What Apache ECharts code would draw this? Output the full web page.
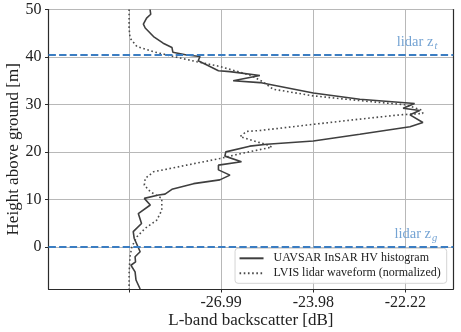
<!DOCTYPE html>
<html>
<head>
<meta charset="utf-8">
<script src="https://cdn.jsdelivr.net/npm/echarts@6/dist/echarts.min.js"></script>
<style>
  html, body { margin: 0; padding: 0; background: #fff; }
  #chart { width: 461px; height: 332px; }
</style>
</head>
<body>
<div id="chart"></div>
<script>
// UAVSAR InSAR HV histogram: height above ground [m] and linear backscatter power
const uavsarHeight = [50.0, 49.0, 48.2, 46.9, 46.1, 44.3, 42.9, 42.0, 41.0, 40.4, 40.1, 39.2, 38.3, 37.1, 36.9, 36.1, 35.0, 34.6, 32.4, 31.1, 30.2, 29.2, 28.7, 27.8, 26.2, 25.3, 23.7, 22.3, 21.6, 21.2, 20.0, 19.1, 17.9, 17.2, 16.2, 15.1, 14.1, 13.3, 12.1, 11.1, 10.9, 10.2, 8.8, 7.0, 4.9, 3.2, 1.8, -1.05, -2.1, -3.2, -3.9, -5.3, -7.0, -8.9];
const uavsarPower = [4.55e-4, 4.7e-4, 3.8e-4, 3.1e-4, 3.5e-4, 5.3e-4, 7.4e-4, 9.3e-4, 9.5e-4, 1.25e-3, 1.54e-3, 1.50e-3, 1.69e-3, 1.94e-3, 2.19e-3, 2.84e-3, 2.26e-3, 2.84e-3, 4.0e-3, 5.01e-3, 6.20e-3, 5.95e-3, 6.31e-3, 6.10e-3, 6.38e-3, 6.10e-3, 5.01e-3, 4.0e-3, 2.99e-3, 2.62e-3, 2.10e-3, 2.08e-3, 2.44e-3, 1.94e-3, 1.94e-3, 2.19e-3, 1.97e-3, 1.40e-3, 9.3e-4, 7.8e-4, 6.4e-4, 3.3e-4, 4.6e-4, 2.0e-4, 2.7e-4, 0.9e-4, 1.1e-4, 2.4e-4, 1.3e-4, 1.4e-4, 0.4e-4, 1.3e-4, 1.5e-4, 2.4e-4];

// LVIS lidar waveform, normalized to the same power scale
const lvisHeight = [50.0, 46.1, 44.0, 42.2, 41.1, 40.1, 39.0, 38.0, 36.2, 34.8, 33.2, 31.8, 30.8, 29.9, 28.8, 28.1, 27.8, 26.9, 25.8, 24.5, 24.3, 23.2, 21.5, 21.0, 19.6, 18.6, 17.2, 15.8, 14.4, 13.0, 11.6, 10.2, 9.9, 7.7, 5.6, 3.9, 2.1, 0.0, -2.1, -5.6, -8.9];
const lvisPower = [0.0, 0.0, 0.2e-4, 1.7e-4, 5.3e-4, 9.6e-4, 1.47e-3, 1.97e-3, 2.62e-3, 2.90e-3, 3.13e-3, 4.0e-3, 5.01e-3, 6.02e-3, 6.35e-3, 6.38e-3, 5.88e-3, 5.01e-3, 4.0e-3, 2.84e-3, 2.55e-3, 2.41e-3, 2.99e-3, 3.10e-3, 2.41e-3, 1.97e-3, 1.25e-3, 5.3e-4, 3.5e-4, 3.3e-4, 4.6e-4, 7.1e-4, 7.4e-4, 7.1e-4, 6.0e-4, 3.5e-4, 1.7e-4, 0.6e-4, 0.2e-4, 0.0, 0.0];

// Lidar ground and top-of-canopy heights [m]
const lidarTop = 40.45;
const lidarGround = 0.0;

// Axis ticks: x ticks sit at linear power values, labelled in dB
const xTickValues = [0, 0.002, 0.004, 0.006];
const xTickLabels = ['', '-26.99', '-23.98', '-22.22'];
const yTickValues = [0, 10, 20, 30, 40, 50];

const pairs = (xs, ys) => xs.map((x, i) => [x, ys[i]]);

const SERIF = '"Liberation Serif", "Times New Roman", serif';
const GRID_COLOR = '#b8b8b8';
const AXIS_COLOR = '#2b2b2b';
const REF_COLOR = '#3b7dc2';
const REF_LABEL_COLOR = '#74a3d3';

const chart = echarts.init(document.getElementById('chart'), null, { renderer: 'canvas' });

const refLabel = (sub) => ({
  show: true,
  position: 'insideEndTop',
  distance: [16, 3],
  formatter: '{m|lidar z}{s|' + sub + '}',
  rich: {
    m: { fontFamily: SERIF, fontSize: 14.5, color: REF_LABEL_COLOR },
    s: { fontFamily: SERIF, fontStyle: 'italic', fontSize: 10.5, color: REF_LABEL_COLOR, verticalAlign: 'bottom', padding: [9, 0, 0, 1] }
  }
});

chart.setOption({
  animation: false,
  backgroundColor: '#fff',
  grid: { left: 48.5, right: 7.7, top: 9.5, bottom: 43, outerBoundsMode: 'none' },
  xAxis: {
    type: 'value',
    min: -0.00175,
    max: 0.00704,
    name: 'L-band backscatter [dB]',
    nameLocation: 'middle',
    nameGap: 23,
    nameMoveOverlap: false,
    nameTextStyle: { fontFamily: SERIF, fontSize: 17, color: '#222' },
    axisLine: { show: true, onZero: false, lineStyle: { color: AXIS_COLOR, width: 1.2 } },
    axisTick: { show: true, inside: false, length: 3.5, customValues: xTickValues, lineStyle: { color: AXIS_COLOR } },
    axisLabel: {
      customValues: xTickValues,
      margin: 6,
      fontFamily: SERIF, fontSize: 16, color: '#222',
      formatter: (v) => {
        const i = xTickValues.findIndex((t) => Math.abs(t - v) < 1e-9);
        return i >= 0 ? xTickLabels[i] : '';
      }
    },
    splitLine: { show: true, lineStyle: { color: GRID_COLOR, width: 1 } }
  },
  yAxis: [{
    type: 'value',
    min: -8.9,
    max: 50,
    name: 'Height above ground [m]',
    nameLocation: 'middle',
    nameGap: 26,
    nameMoveOverlap: false,
    nameTextStyle: { fontFamily: SERIF, fontSize: 17, color: '#222' },
    axisLine: { show: true, onZero: false, lineStyle: { color: AXIS_COLOR, width: 1.2 } },
    axisTick: { show: true, inside: false, length: 3.5, customValues: yTickValues, lineStyle: { color: AXIS_COLOR } },
    axisLabel: { customValues: yTickValues, margin: 7, fontFamily: SERIF, fontSize: 16, color: '#222' },
    splitLine: { show: true, lineStyle: { color: GRID_COLOR, width: 1 } }
  }, {
    type: 'value',
    position: 'right',
    min: -8.9,
    max: 50,
    axisLine: { show: true, onZero: false, lineStyle: { color: AXIS_COLOR, width: 1.2 } },
    axisTick: { show: false },
    axisLabel: { show: false },
    splitLine: { show: false }
  }],
  legend: {
    orient: 'vertical',
    right: 14.3,
    bottom: 48.7,
    itemWidth: 24,
    itemHeight: 14,
    itemGap: 3,
    padding: [4, 6, 4, 3.5],
    borderColor: '#d4d4d4',
    borderWidth: 1,
    borderRadius: 3,
    backgroundColor: 'rgba(255,255,255,0.85)',
    itemStyle: { opacity: 0 },
    textStyle: { fontFamily: SERIF, fontSize: 12, color: '#222', padding: [0, 0, 0, 5] },
    data: ['UAVSAR InSAR HV histogram', 'LVIS lidar waveform (normalized)']
  },
  series: [{
    name: 'UAVSAR InSAR HV histogram',
    type: 'line',
    data: pairs(uavsarPower, uavsarHeight),
    showSymbol: false,
    symbol: 'none',
    lineStyle: { color: '#3f3f3f', width: 1.6 },
    itemStyle: { color: '#3f3f3f' },
    z: 3,
    markLine: {
      silent: true,
      symbol: 'none',
      lineStyle: { color: REF_COLOR, width: 2, type: [7.4, 3.2] },
      data: [
        { yAxis: lidarTop, label: refLabel('t') },
        { yAxis: lidarGround, label: refLabel('g') }
      ]
    }
  }, {
    name: 'LVIS lidar waveform (normalized)',
    type: 'line',
    data: pairs(lvisPower, lvisHeight),
    showSymbol: false,
    symbol: 'none',
    lineStyle: { color: '#4a4a4a', width: 1.6, type: [1.6, 2.6] },
    itemStyle: { color: '#4a4a4a' },
    z: 2
  }]
});
</script>
</body>
</html>
